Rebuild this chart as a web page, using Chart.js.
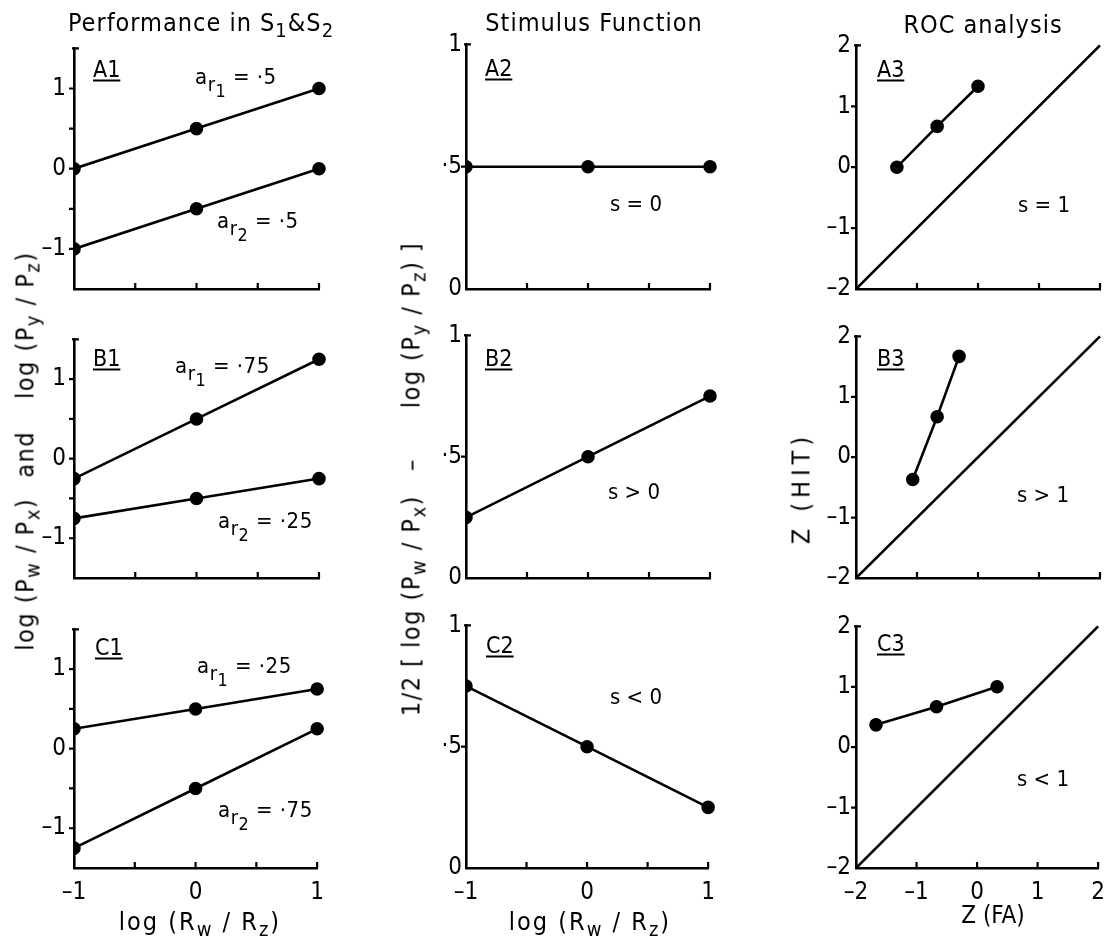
<!DOCTYPE html>
<html>
<head>
<meta charset="utf-8">
<script src="https://cdn.jsdelivr.net/npm/chart.js@4.4.1/dist/chart.umd.min.js"></script>
<style>
  html, body { margin: 0; padding: 0; background: #fff; overflow: hidden; }
  body { width: 1119px; height: 940px; position: relative; font-family: 'DejaVu Sans Condensed', 'Liberation Sans Narrow', 'DejaVu Sans', sans-serif; color: #000; }
  canvas { position: absolute; }
  .t { position: absolute; font-size: 25px; line-height: 1; white-space: nowrap; transform: translateY(-50%); z-index: 2; }
  .c { transform: translate(-50%, -50%); }
  .rot { transform: translate(-50%, -50%) rotate(-90deg); }
  .sb { font-size: 0.8em; position: relative; top: 0.32em; }
  .hd { letter-spacing: 1px; }
  .ax { letter-spacing: 1.5px; }
  .pl { font-size: 23px; text-decoration: underline; text-decoration-thickness: 2px; text-underline-offset: 3px; }
  .an { font-size: 22px; }
  .ar { font-size: 22px; letter-spacing: 0.5px; }
  .ar .sb { font-size: 0.9em; top: 0.34em; }
</style>
</head>
<body>
<canvas id="a1"></canvas><canvas id="a2"></canvas><canvas id="a3"></canvas>
<canvas id="b1"></canvas><canvas id="b2"></canvas><canvas id="b3"></canvas>
<canvas id="c1"></canvas><canvas id="c2"></canvas><canvas id="c3"></canvas>

<!-- column headings -->
<div class="t c hd" style="left:201px;top:22px">Performance in S<span class="sb">1</span>&amp;S<span class="sb">2</span></div>
<div class="t c hd" style="left:594px;top:22px">Stimulus Function</div>
<div class="t c hd" style="left:983px;top:24px">ROC analysis</div>

<!-- y axis titles -->
<div class="t rot ax" style="left:25px;top:451px">log (P<span class="sb">w</span> / P<span class="sb">x</span>)<span style="margin:0 32px 0 20px">and</span>log (P<span class="sb">y</span> / P<span class="sb">z</span>)</div>
<div class="t rot ax" style="left:411px;top:479px">1/2 [ log (P<span class="sb">w</span> / P<span class="sb">x</span>)<span style="margin:0 50px 0 24px">–</span>log (P<span class="sb">y</span> / P<span class="sb">z</span>) ]</div>
<div class="t rot" style="left:801px;top:488px;letter-spacing:5px">Z (HIT)</div>

<!-- x axis titles -->
<div class="t c" style="left:200px;top:921px;letter-spacing:2px">log (R<span class="sb">w</span> / R<span class="sb">z</span>)</div>
<div class="t c" style="left:590px;top:921px;letter-spacing:2px">log (R<span class="sb">w</span> / R<span class="sb">z</span>)</div>
<div class="t c" style="left:993px;top:915px;font-size:24px">Z (FA)</div>

<!-- panel labels -->
<div class="t pl" style="left:93px;top:69px">A1</div>
<div class="t pl" style="left:485px;top:68px">A2</div>
<div class="t pl" style="left:877px;top:69px">A3</div>
<div class="t pl" style="left:93px;top:358px">B1</div>
<div class="t pl" style="left:485px;top:358px">B2</div>
<div class="t pl" style="left:877px;top:358px">B3</div>
<div class="t pl" style="left:95px;top:647px">C1</div>
<div class="t pl" style="left:486px;top:645px">C2</div>
<div class="t pl" style="left:877px;top:643px">C3</div>

<!-- annotations -->
<div class="t ar" style="left:195px;top:77px">a<span class="sb">r<span class="sb">1</span></span> = ·5</div>
<div class="t ar" style="left:217px;top:221px">a<span class="sb">r<span class="sb">2</span></span> = ·5</div>
<div class="t ar" style="left:175px;top:366px">a<span class="sb">r<span class="sb">1</span></span> = ·75</div>
<div class="t ar" style="left:218px;top:521px">a<span class="sb">r<span class="sb">2</span></span> = ·25</div>
<div class="t ar" style="left:197px;top:666px">a<span class="sb">r<span class="sb">1</span></span> = ·25</div>
<div class="t ar" style="left:218px;top:810px">a<span class="sb">r<span class="sb">2</span></span> = ·75</div>
<div class="t an" style="left:610px;top:204px">s = 0</div>
<div class="t an" style="left:608px;top:492px">s &gt; 0</div>
<div class="t an" style="left:610px;top:697px">s &lt; 0</div>
<div class="t an" style="left:1018px;top:205px">s = 1</div>
<div class="t an" style="left:1017px;top:495px">s &gt; 1</div>
<div class="t an" style="left:1017px;top:779px">s &lt; 1</div>

<script>
// x values shared by columns 1 and 2: log (Rw/Rz)
var logRatio = [-1, 0, 1];

// column 1: performance, the two response ratios
var a1Upper = [0, 0.5, 1];
var a1Lower = [-1, -0.5, 0];
var b1Upper = [-0.25, 0.5, 1.25];
var b1Lower = [-0.75, -0.5, -0.25];
var c1Upper = [0.25, 0.5, 0.75];
var c1Lower = [-1.25, -0.5, 0.25];

// column 2: stimulus function
var a2Stim = [0.5, 0.5, 0.5];
var b2Stim = [0.25, 0.5, 0.75];
var c2Stim = [0.75, 0.5, 0.25];

// column 3: ROC points, z(FA) against z(HIT)
var a3FA = [-1.33, -0.67, 0];
var a3Hit = [0, 0.67, 1.33];
var b3FA = [-1.07, -0.67, -0.31];
var b3Hit = [-0.37, 0.67, 1.67];
var c3FA = [-1.67, -0.67, 0.33];
var c3Hit = [0.37, 0.67, 1.0];
var chanceLine = [-2, 2];

// ticks and their labels
var logTicks = [-1, -0.5, 0, 0.5, 1];
var logTickLabels = { '-1': '–1', '0': '0', '1': '1' };
var perfTicks = [-1.5, -1, -0.5, 0, 0.5, 1, 1.5];
var perfTickLabels = { '-1': '–1', '0': '0', '1': '1' };
var stimTicks = [0, 0.5, 1];
var stimTickLabels = { '0': '0', '0.5': '·5', '1': '1' };
var rocTicks = [-2, -1, 0, 1, 2];
var rocTickLabels = { '-2': '–2', '-1': '–1', '0': '0', '1': '1', '2': '2' };

var FONT = "'DejaVu Sans Condensed', 'Liberation Sans Narrow', 'DejaVu Sans', sans-serif";
Chart.defaults.font.family = FONT;
Chart.defaults.color = '#000';

var Y_W = 60, X_H = 45, PAD_T = 15, PAD_R = 15;

//small tick marks: x ticks point up into the plot, y ticks point left, top y tick points right
var tickMarks = {
  id: 'tickMarks',
  beforeDatasetsDraw: function(chart) {
    //points sitting on the y axis are cut in half by it
    var ctx = chart.ctx, area = chart.chartArea;
    ctx.save();
    ctx.beginPath();
    ctx.rect(area.left, 0, chart.width - area.left, chart.height);
    ctx.clip();
  },
  afterDatasetsDraw: function(chart) {
    chart.ctx.restore();
  },
  afterDraw: function(chart) {
    var ctx = chart.ctx, area = chart.chartArea;
    var xs = chart.scales.x, ys = chart.scales.y;
    ctx.save();
    ctx.strokeStyle = '#000';
    ctx.lineWidth = 2.2;
    ctx.beginPath();
    xs.ticks.forEach(function(t, i) {
      if (i === 0) return;
      var px = xs.getPixelForValue(t.value);
      ctx.moveTo(px, area.bottom);
      ctx.lineTo(px, area.bottom - 6);
    });
    ys.ticks.forEach(function(t, i) {
      if (i === 0) return;
      var py = ys.getPixelForValue(t.value);
      if (i === ys.ticks.length - 1) {
        ctx.moveTo(area.left - 2, py);
        ctx.lineTo(area.left + 5, py);
      } else {
        ctx.moveTo(area.left, py);
        ctx.lineTo(area.left - 5, py);
      }
    });
    ctx.stroke();
    ctx.restore();
  }
};

function pairs(xs, ys) {
  return xs.map(function(x, i) { return { x: x, y: ys[i] }; });
}

function series(xs, ys, marks) {
  return {
    data: pairs(xs, ys),
    showLine: true,
    borderColor: '#000',
    backgroundColor: '#000',
    borderWidth: 2.6,
    pointRadius: marks ? 5.5 : 0,
    pointHoverRadius: marks ? 5.5 : 0,
    clip: false
  };
}

function makePanel(id, area, xTicks, xLabels, showX, yTicks, yLabels, yPad, datasets) {
  var cv = document.getElementById(id);
  var w = (area.r - area.l) + Y_W + PAD_R;
  var h = (area.b - area.t) + PAD_T + X_H;
  cv.width = w; cv.height = h;
  cv.style.left = (area.l - Y_W) + 'px';
  cv.style.top = (area.t - PAD_T) + 'px';
  cv.style.width = w + 'px';
  cv.style.height = h + 'px';

  return new Chart(cv, {
    type: 'scatter',
    data: { datasets: datasets },
    options: {
      responsive: false,
      animation: false,
      events: [],
      layout: { padding: { top: PAD_T, right: PAD_R, left: 0, bottom: 0 } },
      plugins: { legend: { display: false }, tooltip: { enabled: false } },
      scales: {
        x: {
          type: 'linear',
          min: xTicks[0], max: xTicks[xTicks.length - 1],
          afterBuildTicks: function(s) { s.ticks = xTicks.map(function(v) { return { value: v }; }); },
          afterFit: function(s) { s.height = X_H; },
          grid: { display: false, drawTicks: false },
          border: { display: true, color: '#000', width: 2.6 },
          ticks: {
            display: showX, autoSkip: false, maxRotation: 0, padding: 10,
            font: { size: 24 }, color: '#000',
            callback: function(v) { return xLabels[String(v)] || ''; }
          }
        },
        y: {
          type: 'linear',
          min: yTicks[0], max: yTicks[yTicks.length - 1],
          afterBuildTicks: function(s) { s.ticks = yTicks.map(function(v) { return { value: v }; }); },
          afterFit: function(s) { s.width = Y_W; },
          grid: { display: false, drawTicks: false },
          border: { display: true, color: '#000', width: 2.6 },
          ticks: {
            autoSkip: false, padding: yPad,
            font: { size: 24 }, color: '#000',
            callback: function(v) { return yLabels[String(v)] || ''; }
          }
        }
      }
    },
    plugins: [tickMarks]
  });
}

var rows = [{ t: 41, b: 289 }, { t: 332, b: 578 }, { t: 622, b: 868 }];
var cols = [{ l: 74, r: 319 }, { l: 466, r: 710 }, { l: 856, r: 1100 }];
function box(ri, ci) { return { l: cols[ci].l, r: cols[ci].r, t: rows[ri].t, b: rows[ri].b }; }

// column 1
makePanel('a1', box(0, 0), logTicks, logTickLabels, false, perfTicks, perfTickLabels, 8,
  [series(logRatio, a1Upper, true), series(logRatio, a1Lower, true)]);
makePanel('b1', box(1, 0), logTicks, logTickLabels, false, perfTicks, perfTickLabels, 8,
  [series(logRatio, b1Upper, true), series(logRatio, b1Lower, true)]);
makePanel('c1', box(2, 0), logTicks, logTickLabels, true, perfTicks, perfTickLabels, 8,
  [series(logRatio, c1Upper, true), series(logRatio, c1Lower, true)]);

// column 2
makePanel('a2', box(0, 1), logTicks, logTickLabels, false, stimTicks, stimTickLabels, 4,
  [series(logRatio, a2Stim, true)]);
makePanel('b2', box(1, 1), logTicks, logTickLabels, false, stimTicks, stimTickLabels, 4,
  [series(logRatio, b2Stim, true)]);
makePanel('c2', box(2, 1), logTicks, logTickLabels, true, stimTicks, stimTickLabels, 4,
  [series(logRatio, c2Stim, true)]);

// column 3
makePanel('a3', box(0, 2), rocTicks, rocTickLabels, false, rocTicks, rocTickLabels, 5,
  [series(chanceLine, chanceLine, false), series(a3FA, a3Hit, true)]);
makePanel('b3', box(1, 2), rocTicks, rocTickLabels, false, rocTicks, rocTickLabels, 5,
  [series(chanceLine, chanceLine, false), series(b3FA, b3Hit, true)]);
makePanel('c3', box(2, 2), rocTicks, rocTickLabels, true, rocTicks, rocTickLabels, 5,
  [series(chanceLine, chanceLine, false), series(c3FA, c3Hit, true)]);
</script>
</body>
</html>
